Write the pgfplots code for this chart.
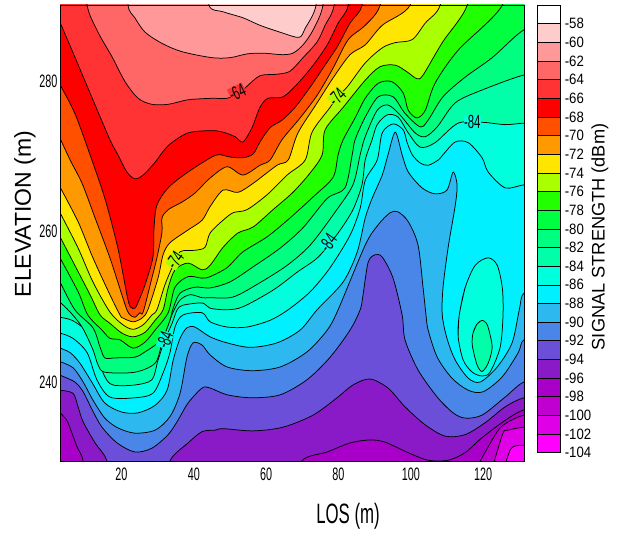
\documentclass[border=0pt]{standalone}
\usepackage{pgfplots}
\pgfplotsset{compat=1.18}
\usepackage{fontspec}
\setmainfont{Liberation Sans}
\newfontfamily\narrowfont[FakeStretch=0.6]{Liberation Sans}
\newfontfamily\cbfont[FakeStretch=0.88]{Liberation Sans}
\definecolor{b58}{HTML}{FFFFFF}
\definecolor{b60}{HTML}{FFCCCC}
\definecolor{b62}{HTML}{FF9999}
\definecolor{b64}{HTML}{FF6666}
\definecolor{b66}{HTML}{FF3333}
\definecolor{b68}{HTML}{FF0000}
\definecolor{b70}{HTML}{FF5000}
\definecolor{b72}{HTML}{FF9900}
\definecolor{b74}{HTML}{FFE600}
\definecolor{b76}{HTML}{AAFF00}
\definecolor{b78}{HTML}{22FF00}
\definecolor{b80}{HTML}{00FF40}
\definecolor{b82}{HTML}{00FF80}
\definecolor{b84}{HTML}{00FFA8}
\definecolor{b86}{HTML}{00FFDD}
\definecolor{b88}{HTML}{00F0FF}
\definecolor{b90}{HTML}{2DB8F0}
\definecolor{b92}{HTML}{4A86E8}
\definecolor{b94}{HTML}{6C4FD8}
\definecolor{b96}{HTML}{8A1AC8}
\definecolor{b98}{HTML}{A800C8}
\definecolor{b100}{HTML}{C000D0}
\definecolor{b102}{HTML}{E000E8}
\definecolor{b104}{HTML}{FF00FF}
\newcommand{\band}[2]{\addplot[fill=#1,draw=black,line width=0.75pt,smooth,tension=0.5,forget plot] coordinates {#2};}
\newcommand{\swatch}[3]{\addplot[fill=#1,draw=black,line width=0.6pt,forget plot] coordinates {(0,#2)(1,#2)(1,#3)(0,#3)(0,#2)};}
\begin{document}
\begin{tikzpicture}[x=1pt,y=1pt]
\path[use as bounding box] (0,0) rectangle (621,534);
\begin{axis}[
  name=main, at={(60pt,73pt)}, anchor=south west,
  scale only axis, width=464pt, height=456pt,
  xmin=3, xmax=131.3, ymin=229.5, ymax=290.1,
  axis background/.style={fill=b98},
  axis on top, axis line style={line width=0.7pt},
  major tick length=0pt, minor tick num=0,
  xtick={20,40,60,80,100,120}, xticklabels={20,40,60,80,100,120},
  ytick={240,260,280}, yticklabels={240,260,280},
  xticklabel style={font=\narrowfont\fontsize{18pt}{18pt}\selectfont, yshift=-3pt},
  yticklabel style={font=\narrowfont\fontsize{18pt}{18pt}\selectfont, xshift=1pt},
  xlabel={LOS (m)}, ylabel={ELEVATION (m)},
  xlabel style={font=\narrowfont\fontsize{28pt}{28pt}\selectfont, at={(axis description cs:0.6207,-0.1206)}, anchor=center},
  ylabel style={font=\fontsize{23pt}{23pt}\selectfont, at={(axis description cs:-0.0754,0.5417)}, anchor=center, rotate=0},
]
% above -96
\band{b96}{(3,235.9)(4.9,234.9)(6.3,233.2)(7.7,231.4)(9.4,229.5)(10,225)(69,225)(69.9,229.5)(76.9,230.7)(83.2,231.9)(88.7,232.3)(92.9,232.0)(99.3,230.6)(104.8,229.6)(110.3,229.6)(115,230.6)(119.7,232.6)(126.1,234.9)(131.3,236.3)(137,236.3)(137,296)(-3,296)}
% above -94
\band{b94}{(3,238.9)(6.6,238.5)(8,236.7)(9.4,234.7)(12.7,231.9)(16,229.5)(17,225)(32,225)(33.4,229.5)(38.4,231.9)(42.3,233.4)(45.9,233.6)(48.1,233.8)(56.4,233.5)(64.7,234)(73,235.6)(79.6,237.9)(84,239.6)(88.7,240.4)(93.7,239.2)(98.4,236.7)(104,234.3)(109.5,232.8)(115,233)(120.6,234.6)(126.1,236.7)(131.3,237.9)(137,237.9)(137,296)(-3,296)}
% above -92
\band{b92}{(3,240.9)(7.1,240)(9.4,238.7)(11.9,236.3)(14.6,234)(18.8,231.9)(23.7,230.7)(28.4,231.2)(32.9,233)(35.6,234.9)(38.4,237.2)(42.3,239.2)(44.5,239.2)(49.2,238.3)(56.1,237.9)(63.9,238.3)(71.3,240.3)(77.7,243.3)(83.2,246.9)(86,249.6)(86.8,251.6)(88.2,255.9)(90.1,256.9)(92.1,256.6)(95.1,253.8)(97.6,248.9)(98.4,245.6)(102,241.6)(107.3,238)(111.7,235.9)(115,235.2)(119.7,235.6)(126.1,238)(131.3,240)(137,240)(137,296)(-3,296)}
% above -90
\band{b90}{(3,242.7)(6.6,241.9)(9.4,240)(12.1,237.6)(15.4,235.2)(19,233.9)(23.7,233.2)(29.3,233.6)(33.4,235.4)(36.2,238.5)(38.1,243.3)(39.8,245.2)(42.3,244.9)(44.5,243.6)(49.2,242)(56.1,241.5)(63.9,242)(71.3,244)(76.9,246.9)(79.9,249.6)(87.4,258.2)(91,260.9)(94.3,262.5)(96.5,262.6)(99.3,261.3)(102,258.2)(103.4,252.5)(104.2,248.9)(104.8,246.9)(107.3,243.3)(111.4,240.5)(115.9,238.9)(120,238.7)(125.3,240.7)(129.7,243.9)(131.3,245.6)(137,245.6)(137,296)(-3,296)}
% above -88
\band{b88}{(3,244.5)(5.8,243.9)(8.5,242.5)(11.9,239.9)(15.4,237.2)(20.1,236)(24.6,235.9)(29.3,236.9)(32.6,238.9)(34.3,242.9)(36.2,245.8)(38.1,247.2)(40.3,247.3)(44.5,246)(49.2,245.2)(55.6,244.6)(63,245.2)(69.4,246.9)(74.1,249.6)(81.3,253.3)(85.2,257.3)(87.4,261.8)(89.3,264.4)(92.1,267.5)(93.7,270.2)(95.7,273.2)(97.6,270.2)(99.3,267.9)(103.1,265.8)(106.7,265)(110,265.5)(111.7,267.9)(112.8,266.2)(112.3,263.5)(110.3,257.8)(108.9,252.5)(108.7,248.9)(110,245.8)(112.3,242.9)(115.9,240.5)(119.2,240)(123.9,242)(128,245.2)(130,249.6)(131.3,251.8)(137,251.8)(137,296)(-3,296)}
% above -86
\band{b86}{(3,246.5)(6.6,245.8)(10.5,243.9)(13.2,240.3)(16.8,238)(23.7,237.9)(28.7,238.5)(31.5,241.2)(33.4,243.9)(34.8,247.3)(37,248.9)(42.3,249.2)(44.5,248)(49.2,247.3)(54.7,247.3)(61.1,248.2)(66.1,249.6)(72.2,252)(77.7,255.2)(83.2,259.5)(86,263.1)(87.4,266.8)(90.7,269.5)(92.1,273.1)(95.1,274.3)(97.9,273.5)(99,271.8)(100.4,270.2)(102.6,269.1)(104.8,268.8)(107.6,269.5)(108.9,270.2)(112.3,271.9)(115.9,271.8)(119.7,269.8)(121.4,267.9)(126.1,265.8)(131.3,266.2)(137,266.2)(137,296)(-3,296)}
\band{b86}{(113.1,246)(113.4,248.9)(115,252.5)(117.8,255.5)(121.4,256.5)(123.9,255.5)(125.3,252.5)(125.5,248.9)(124.7,244.6)(121.9,241.3)(119.7,240.8)(117,241.3)(114.5,242.9)(113.1,246)(113.4,248.9)(115,252.5)}
% above -84
\band{b84}{(3,248.6)(6.3,248.2)(9.9,246.9)(12.7,244)(15.4,240.7)(17.7,239.6)(23.7,239.6)(28.4,240.3)(30.1,242.9)(32,245.6)(34,247.8)(35.4,249.6)(37,250.2)(42.3,250.5)(44.5,249.8)(49.2,249.6)(53.6,250)(61.9,252.2)(68.6,254.6)(74.4,256.6)(79.9,259.8)(84,262.9)(86.5,266.2)(87.4,269.5)(89.3,272.2)(90.7,274.2)(93.5,275.5)(96.5,275.2)(99.3,273.1)(102.6,271.2)(106.7,271.8)(113.1,274.4)(120,274.5)(126.1,274.2)(131.3,274.4)(137,274.4)(137,296)(-3,296)}
\band{b84}{(117.2,246.5)(118.3,247.7)(119.7,248.2)(120.9,247.8)(121.6,246.9)(122.5,244.6)(121.4,242.5)(119.7,241.4)(118.3,242.3)(117,244.9)(117.2,246.5)(118.3,247.7)(119.7,248.2)}
% above -82
\band{b82}{(3,250.6)(5.8,249.3)(9.1,247.3)(12.1,244.3)(13.5,242.3)(15.4,241.3)(23.7,241.3)(29.3,242.5)(31.2,245.2)(32.9,247.6)(34.3,249.3)(36.2,250.9)(39,251.6)(42.3,251.2)(44.5,251.2)(50.9,251.3)(58.3,253.2)(65.8,255.5)(72.2,258.2)(79.1,262.6)(84,266.2)(86,270.2)(87.4,272.6)(90.7,276.1)(93.7,276.8)(97,275.5)(101.2,273.1)(104,272.6)(107.3,273.9)(112.3,277.1)(119.7,278.8)(131.3,280.8)(137,280.8)(137,296)(-3,296)}
% above -80
\band{b80}{(3,253.3)(7.1,249.6)(12.1,247.2)(14.1,244.6)(15.4,243.2)(18.2,243.2)(23.7,243.3)(26.5,244)(30.1,245.2)(32,246.5)(33.4,248.2)(34.3,249.8)(36.2,251.8)(40.3,252.6)(44.5,252.5)(50,253.3)(56.4,255.3)(63.9,257.8)(70.2,260.5)(76.9,264.4)(81.8,265.8)(83.8,270.2)(84.6,272.2)(87.4,275.2)(91,277.9)(95.1,277.9)(98.4,275.7)(102.6,273.9)(104.8,274.8)(108.9,277.9)(115,280.5)(122.5,283.1)(131.3,286.8)(137,286.8)(137,296)(-3,296)}
% above -78
\band{b78}{(3,256.5)(8,252)(10.7,248.9)(14.6,246.9)(16.8,245.8)(19.6,245.6)(23.2,244.5)(26.5,245.3)(29.3,246.9)(32.9,249.2)(34.8,252.6)(38.4,254)(42.3,253.8)(44.5,254)(49.2,255.2)(53.6,257.3)(60.3,259.3)(66.6,261.8)(73,264.6)(78.5,267.2)(79.9,270.2)(81.3,272.2)(84.6,275.1)(87.4,277.7)(91,279.7)(94.8,279.9)(97.9,278.4)(99.3,276.1)(101.7,275.1)(104,276.1)(106.7,279.7)(113.1,284.1)(125.3,290.1)(125.3,296)(-3,296)}
% above -76
\band{b76}{(3,259.3)(7.1,255.5)(11.3,251.6)(14.1,248.9)(16.8,247.8)(20.1,246.5)(23.2,246)(26.5,246.6)(29.3,248.2)(31.5,249.6)(32.9,252.5)(34.8,254.9)(38.4,255.8)(42.3,254.9)(44.5,255.5)(48.1,257.9)(52.2,259.8)(56.4,260.6)(61.9,262.9)(67.4,265.2)(72.2,267.8)(75.5,270.2)(76.3,273.5)(81.3,276.5)(87.4,280.1)(91.5,281.9)(95.7,282.1)(99,281.2)(101.7,280.3)(103.4,280.8)(108.7,285.1)(115.6,290.1)(115.6,296)(-3,296)}
% above -74
\band{b74}{(3,262.5)(8,257.8)(12.1,253.3)(16.8,249.3)(20.4,247.6)(23.2,247)(26,247.6)(28.4,248.9)(29.8,249.6)(32,252.9)(34,255.2)(36.2,257.3)(40.3,257.5)(43.1,257.9)(44.5,259.8)(48.1,261.5)(50.9,262.5)(54.7,262.9)(60.3,264.9)(65.8,267.5)(70.8,269.5)(72.7,273.2)(77.7,276.5)(79.6,277.9)(82.4,279.2)(87.4,282.4)(92.1,284.4)(95.7,285.1)(100.4,285.5)(104,287.7)(108.1,290.1)(108.1,296)(-3,296)}
% above -72
\band{b72}{(3,265.9)(8,261.3)(12.1,256.5)(16.8,251.6)(19.6,248.9)(20.4,248.5)(23.2,248)(25.7,248.5)(27.3,249.6)(30.1,253.8)(31.5,256.9)(33.4,258.5)(38.4,260.2)(42.3,261.5)(44.5,263.3)(48.1,265.5)(52.2,265.2)(56.4,266.4)(63,268.8)(66.1,269.5)(68.8,273.1)(74.1,277.1)(78.5,280.4)(83.2,283.5)(87.4,284.8)(92.1,287.4)(99.8,290.1)(99.8,296)(-3,296)}
% above -70
\band{b70}{(3,272.4)(5.8,269.5)(9.1,266.4)(12.7,261.8)(16.8,256.5)(20.1,251.6)(21.5,249.6)(22.4,248.9)(23.7,248.6)(25.1,249.2)(26,249.3)(28.4,253.8)(29.8,256.5)(31.2,259.9)(31.2,261.8)(32.9,262.9)(36.7,263.9)(40.3,265.1)(44.5,267.1)(49.2,268.6)(53.6,267.5)(58.3,268.8)(61.1,269.5)(64.4,272.2)(69.4,275.1)(74.1,278.1)(78.5,281.7)(82.7,285.5)(87.4,287.4)(91.5,290.1)(91.5,296)(-3,296)}
% above -68
\band{b68}{(3,279.5)(7.1,275.7)(11.3,270.2)(15.4,264.4)(19,257.8)(21.5,251.6)(22.4,250)(23.7,249.8)(24.6,250.6)(26.5,252.9)(28.7,256.6)(29,260.5)(29.8,263.5)(32.9,265.8)(38.4,267.9)(45,269.9)(47.3,270.2)(50,269.9)(53.6,269.8)(56.4,270.3)(58.3,271.9)(61.1,273.8)(64.4,274.8)(68,276.5)(72.2,279.2)(75.7,281.7)(79.6,284.5)(83.2,287.7)(86.5,290.1)(86.5,296)(-3,296)}
% above -66
\band{b66}{(3,287.8)(7.1,283.2)(12.1,277.5)(16.8,272.2)(19,270.2)(21.5,267.9)(23.7,267)(26,267.5)(29.3,269.2)(32.9,271.4)(38.4,273.1)(45,273.4)(48.1,273.2)(51.4,272.6)(53.6,271.9)(56.1,273.8)(58.3,276.5)(60.5,277.7)(64.7,277.9)(68.8,279.7)(73,282.1)(76.9,284.8)(79.9,287.7)(82.7,290.1)(82.7,296)(-3,296)}
% above -64
\band{b64}{(10.5,296)(10.5,290.1)(13.5,286.5)(17.4,283.2)(21,279.9)(24.6,277.7)(28.4,276.9)(32.9,276.9)(38.4,277.5)(45,277.7)(49.2,277.7)(52.8,278.5)(54.7,279.3)(58.3,280.7)(63,280.9)(66.6,281.3)(70.2,283.1)(74.1,285.2)(76.3,287.4)(78.8,290.1)(78.8,296)}
% above -62
\band{b62}{(21.8,296)(21.8,290.1)(23.7,288.4)(26.5,286.5)(31.2,285)(36.7,283.9)(45,283.1)(50,283.1)(54.7,283.6)(59.1,283.7)(64.4,283.5)(67.4,283.7)(70.2,284.8)(73,286.8)(75.7,290.1)(75.7,296)}
% above -60
\band{b60}{(44.2,296)(44.2,290.1)(48.1,289.2)(53.6,288.4)(58.3,287.4)(64.4,286.4)(69.1,285.8)(70.8,287)(73.8,290.1)(73.8,296)}
% below -98, -100, -102
\band{b100}{(118.6,229)(123.9,233.4)(126.6,234.6)(131.3,235.6)(137,235.6)(137,225)(118.6,225)}
\band{b102}{(122.8,229)(125.5,233.2)(126.9,233.6)(131.3,234)(137,234)(137,225)(122.8,225)}
\band{b104}{(126.1,229)(127.5,231)(128.9,231.5)(131.3,231.6)(137,231.6)(137,225)(126.1,225)}
% contour labels
\node[font=\narrowfont\fontsize{19pt}{19pt}\selectfont, fill=b66, inner sep=0pt, rotate=25] at (axis cs:52,278.5) {-64};
\node[font=\narrowfont\fontsize{19pt}{19pt}\selectfont, fill=b76, inner sep=0pt, rotate=45] at (axis cs:79.6,277.9) {-74};
\node[font=\narrowfont\fontsize{19pt}{19pt}\selectfont, fill=b86, inner sep=0pt] at (axis cs:117,274.5) {-84};
\node[font=\narrowfont\fontsize{19pt}{19pt}\selectfont, fill=b76, inner sep=0pt, rotate=55] at (axis cs:34.8,256.2) {-74};
\node[font=\narrowfont\fontsize{19pt}{19pt}\selectfont, fill=b86, inner sep=0pt, rotate=55] at (axis cs:77.1,258.5) {-84};
\node[font=\narrowfont\fontsize{19pt}{19pt}\selectfont, fill=b86, inner sep=0pt, rotate=70] at (axis cs:32,245.6) {-84};
\end{axis}
\begin{axis}[
  at={(537pt,81.3pt)}, anchor=south west,
  scale only axis, width=23.3pt, height=447.7pt,
  xmin=0, xmax=1, ymin=-104, ymax=-56,
  xtick=\empty, axis on top, axis line style={line width=0.6pt},
  major tick length=0pt,
  ytick={-104,-102,-100,-98,-96,-94,-92,-90,-88,-86,-84,-82,-80,-78,-76,-74,-72,-70,-68,-66,-64,-62,-60,-58},
  yticklabels={-104,-102,-100,-98,-96,-94,-92,-90,-88,-86,-84,-82,-80,-78,-76,-74,-72,-70,-68,-66,-64,-62,-60,-58},
  yticklabel pos=right,
  yticklabel style={font=\cbfont\fontsize{15pt}{15pt}\selectfont, anchor=west, xshift=1pt},
  ylabel={SIGNAL STRENGTH (dBm)}, 
  ylabel style={font=\fontsize{18.2pt}{18.2pt}\selectfont, at={(axis description cs:2.70,0.482)}, anchor=center, rotate=0},
]
\swatch{b104}{-104}{-102}
\swatch{b102}{-102}{-100}
\swatch{b100}{-100}{-98}
\swatch{b98}{-98}{-96}
\swatch{b96}{-96}{-94}
\swatch{b94}{-94}{-92}
\swatch{b92}{-92}{-90}
\swatch{b90}{-90}{-88}
\swatch{b88}{-88}{-86}
\swatch{b86}{-86}{-84}
\swatch{b84}{-84}{-82}
\swatch{b82}{-82}{-80}
\swatch{b80}{-80}{-78}
\swatch{b78}{-78}{-76}
\swatch{b76}{-76}{-74}
\swatch{b74}{-74}{-72}
\swatch{b72}{-72}{-70}
\swatch{b70}{-70}{-68}
\swatch{b68}{-68}{-66}
\swatch{b66}{-66}{-64}
\swatch{b64}{-64}{-62}
\swatch{b62}{-62}{-60}
\swatch{b60}{-60}{-58}
\swatch{b58}{-58}{-56}
\end{axis}
\end{tikzpicture}
\end{document}
